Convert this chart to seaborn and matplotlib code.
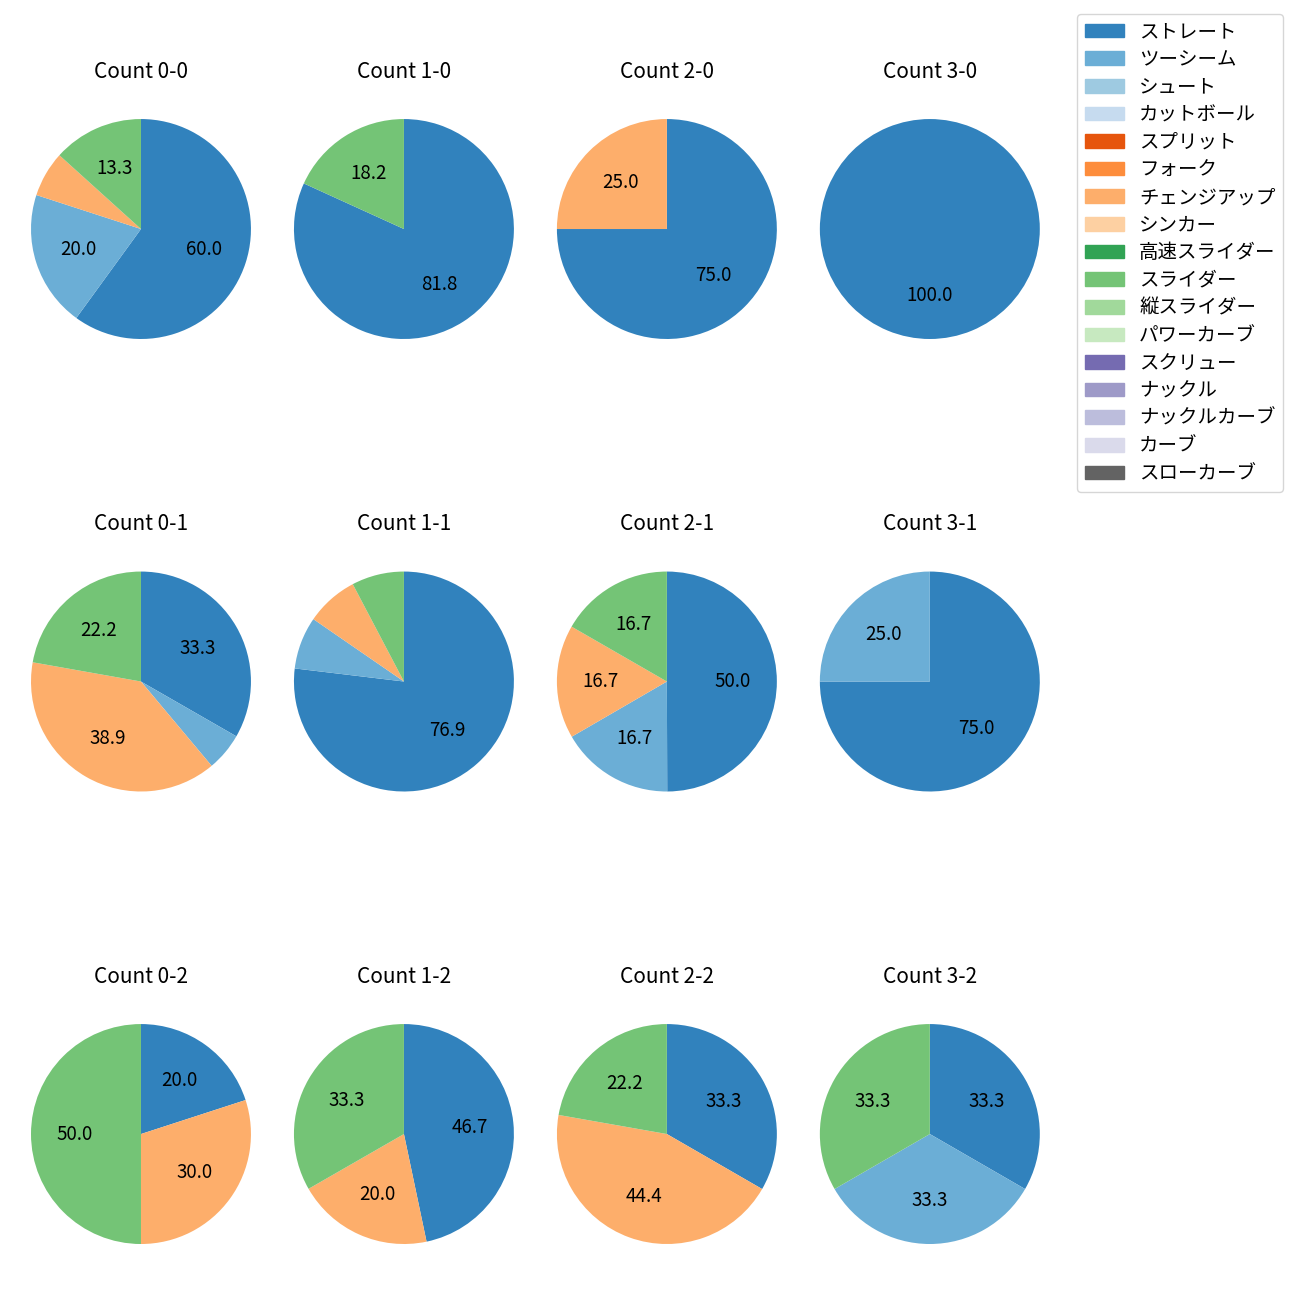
import matplotlib
matplotlib.use("Agg")
import matplotlib.pyplot as plt
import matplotlib.patches as mpatches
import seaborn as sns

plt.rcParams['font.family'] = ['Noto Sans CJK JP', 'DejaVu Sans']

pitch_types = ['ストレート', 'ツーシーム', 'シュート', 'カットボール', 'スプリット', 'フォーク',
               'チェンジアップ', 'シンカー', '高速スライダー', 'スライダー', '縦スライダー',
               'パワーカーブ', 'スクリュー', 'ナックル', 'ナックルカーブ', 'カーブ', 'スローカーブ']

# percentage per pitch type for each count (ball-strike)
counts = ['0-0', '1-0', '2-0', '3-0',
          '0-1', '1-1', '2-1', '3-1',
          '0-2', '1-2', '2-2', '3-2']
share_straight = [60.0, 81.8, 75.0, 100.0, 33.3, 76.9, 50.0, 75.0, 20.0, 46.7, 33.3, 33.3]
share_twoseam = [20.0, 0.0, 0.0, 0.0, 5.6, 7.7, 16.7, 25.0, 0.0, 0.0, 0.0, 33.3]
share_changeup = [6.7, 0.0, 25.0, 0.0, 38.9, 7.7, 16.7, 0.0, 30.0, 20.0, 44.4, 0.0]
share_slider = [13.3, 18.2, 0.0, 0.0, 22.2, 7.7, 16.7, 0.0, 50.0, 33.3, 22.2, 33.3]

colors = sns.color_palette('tab20c', 20)[:17]
col_of = dict(zip(pitch_types, colors))

fig, axes = plt.subplots(3, 4, figsize=(13, 13))
plt.subplots_adjust(left=0.0027, right=0.821, bottom=0.0219, top=0.9296,
                    wspace=-0.0436, hspace=0.6455)

for i, ax in enumerate(axes.flat):
    vals = [share_straight[i], share_twoseam[i], share_changeup[i], share_slider[i]]
    names = ['ストレート', 'ツーシーム', 'チェンジアップ', 'スライダー']
    v = [x for x in vals if x > 0]
    c = [col_of[n] for n, x in zip(names, vals) if x > 0]
    ax.pie(v, colors=c, startangle=90, counterclock=False,
           wedgeprops=dict(linewidth=0),
           autopct=lambda p: f'{p:.1f}' if p >= 10 else '',
           textprops=dict(fontsize=13.5))
    ax.set_title(f'Count {counts[i]}', fontsize=15, pad=10)

handles = [mpatches.Patch(color=col_of[n], label=n) for n in pitch_types]
fig.legend(handles=handles, loc='upper right', bbox_to_anchor=(0.9947, 0.997),
           fontsize=14, labelspacing=0.34)

fig.savefig('out.png', dpi=100)
